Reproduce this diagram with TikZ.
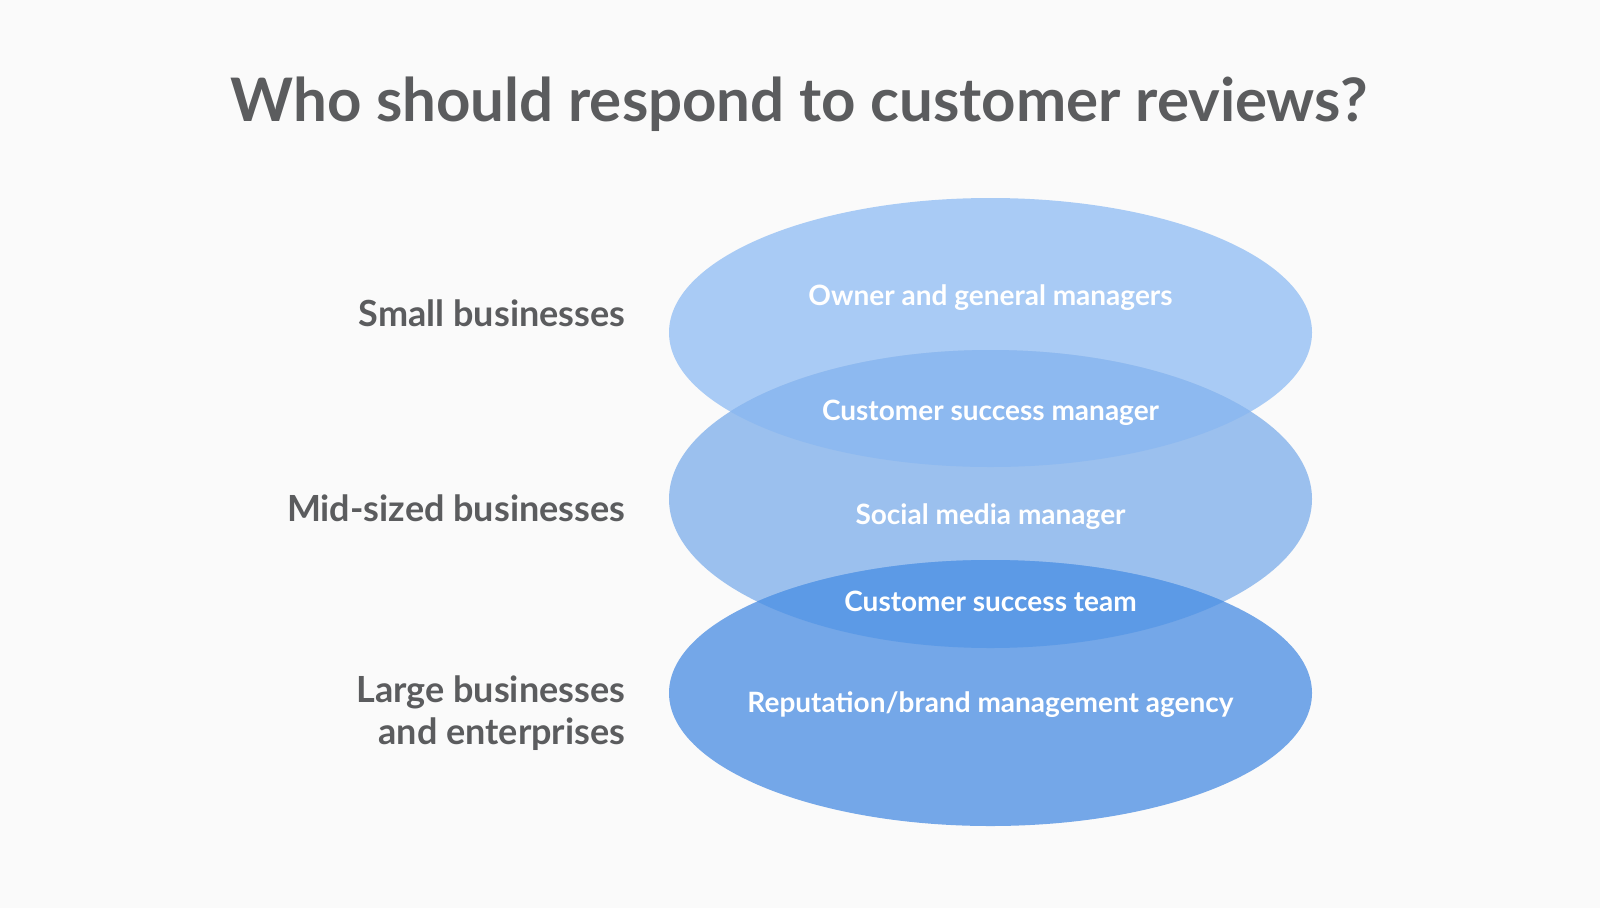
\documentclass[tikz,border=0pt]{standalone}
\usepackage{fontspec}
\setmainfont{Lato}
\usepackage{tikz}
\usetikzlibrary{positioning}
\definecolor{pagebg}{HTML}{FAFAFA}
\definecolor{inkgrey}{HTML}{5B5C5E}
\definecolor{smallblue}{HTML}{A9CBF5}
\definecolor{midblue}{HTML}{9BC0EE}
\definecolor{largeblue}{HTML}{74A7E8}
\definecolor{smallmidblue}{HTML}{8DB9F0}
\definecolor{midlargeblue}{HTML}{5C9AE6}

\tikzset{
  sidelabel/.style={inkgrey, font=\fontsize{36}{42}\selectfont\bfseries, align=right, anchor=base east, inner sep=0pt},
  rolelabel/.style={white, font=\fontsize{28}{34}\selectfont\bfseries, anchor=base, inner sep=0pt},
}

\begin{document}
\begin{tikzpicture}[x=1pt, y=-1pt]
  \fill[pagebg] (0,0) rectangle (1600,908);
  \useasboundingbox (0,0) rectangle (1600,908);
  % three business tiers
  \fill[smallblue] (990.5,332.5) ellipse [x radius=321.5pt, y radius=134.5pt];
  \fill[midblue] (990.5,499) ellipse [x radius=321.5pt, y radius=149pt];
  \fill[largeblue] (990.5,693) ellipse [x radius=321.5pt, y radius=133pt];
  % overlaps
  \begin{scope}
    \clip (990.5,332.5) ellipse [x radius=321.5pt, y radius=134.5pt];
    \fill[smallmidblue] (990.5,499) ellipse [x radius=321.5pt, y radius=149pt];
  \end{scope}
  \begin{scope}
    \clip (990.5,499) ellipse [x radius=321.5pt, y radius=149pt];
    \fill[midlargeblue] (990.5,693) ellipse [x radius=321.5pt, y radius=133pt];
  \end{scope}

  \node[inkgrey, font=\fontsize{60}{72}\selectfont\bfseries, anchor=base, inner sep=0pt] (title) at (799,121) {Who should respond to customer reviews?};

  \node[sidelabel] (small) at (625.5,326) {Small businesses};
  \node[sidelabel] (mid) at (625.5,521.5) {Mid-sized businesses};
  \node[sidelabel] (large) at (625.5,744) {Large businesses\\and enterprises};

  \node[rolelabel] (owner) at (990.5,305) {Owner and general managers};
  \node[rolelabel] (csm) at (990.5,420) {Customer success manager};
  \node[rolelabel] (social) at (990.5,524) {Social media manager};
  \node[rolelabel] (cst) at (990.5,611.5) {Customer success team};
  \node[rolelabel] (agency) at (990.5,712) {Reputation/brand management agency};
\end{tikzpicture}
\end{document}
